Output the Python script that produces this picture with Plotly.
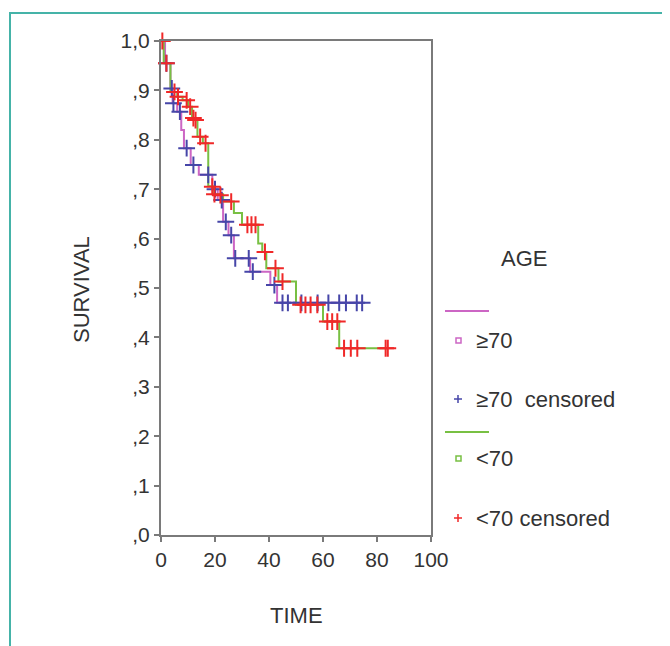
import plotly.graph_objects as go

# ---- data ----
old_times = [0, 1.5, 3.5, 4.3, 6, 7.5, 8.5, 11, 14, 19, 21, 23, 25, 27, 33, 40.5, 43, 74.7]
old_surv = [1.0, 0.955, 0.904, 0.874, 0.857, 0.82, 0.783, 0.749, 0.729, 0.70, 0.678, 0.634,
            0.607, 0.56, 0.533, 0.506, 0.47, 0.47]
old_cens_t = [2, 4, 4.6, 7, 9.5, 12, 17.5, 20, 22.5, 24, 26, 27.5, 32.5, 34, 42, 45, 47,
              52, 58, 62, 66, 68.5, 72.5, 74.5]
old_cens_s = [0.955, 0.904, 0.874, 0.857, 0.783, 0.749, 0.729, 0.70, 0.678, 0.634, 0.607,
              0.56, 0.56, 0.533, 0.506, 0.47, 0.47, 0.47, 0.47, 0.47, 0.47, 0.47, 0.47, 0.47]

young_times = [0, 1, 3.5, 6, 8, 10, 11.5, 13.5, 15.5, 17.5, 19.2, 23, 27, 30, 36, 37.5, 39,
               43.5, 50, 60, 66, 84]
young_surv = [1.0, 0.955, 0.897, 0.887, 0.88, 0.867, 0.844, 0.806, 0.793, 0.706, 0.69,
              0.675, 0.652, 0.628, 0.59, 0.573, 0.54, 0.513, 0.466, 0.432, 0.378, 0.378]
young_cens_t = [0.5, 2, 5, 6.3, 9.5, 10.8, 12, 12.8, 14.5, 16.5, 19, 19.8, 22, 26, 32,
                33.5, 35, 38.5, 42.4, 45, 51.7, 53.5, 55.4, 57.9, 61.6, 63.4, 65.3, 67.8,
                70.3, 72.7, 83.2, 84]
young_cens_s = [1.0, 0.955, 0.897, 0.887, 0.88, 0.867, 0.844, 0.84, 0.806, 0.793, 0.705,
                0.69, 0.688, 0.675, 0.628, 0.628, 0.628, 0.573, 0.54, 0.513, 0.466, 0.466,
                0.466, 0.466, 0.432, 0.432, 0.432, 0.378, 0.378, 0.378, 0.378, 0.378]

y_tick_vals = [0, 0.1, 0.2, 0.3, 0.4, 0.5, 0.6, 0.7, 0.8, 0.9, 1.0]
y_tick_text = [",0", ",1", ",2", ",3", ",4", ",5", ",6", ",7", ",8", ",9", "1,0"]
x_tick_vals = [0, 20, 40, 60, 80, 100]

MAGENTA = "#cc66c4"
GREEN = "#78c043"
BLUE = "#4646a8"
RED = "#f02828"
TXT = "#333333"
FONT = "Liberation Sans, Arial, sans-serif"

fig = go.Figure()
fig.add_trace(go.Scatter(x=old_times, y=old_surv, mode="lines", line_shape="hv",
                         line=dict(color=MAGENTA, width=2), cliponaxis=False))
fig.add_trace(go.Scatter(x=young_times, y=young_surv, mode="lines", line_shape="hv",
                         line=dict(color=GREEN, width=2), cliponaxis=False))
fig.add_trace(go.Scatter(x=old_cens_t, y=old_cens_s, mode="markers", cliponaxis=False,
                         marker=dict(symbol="cross-thin", size=12,
                                     line=dict(color=BLUE, width=2))))
fig.add_trace(go.Scatter(x=young_cens_t, y=young_cens_s, mode="markers", cliponaxis=False,
                         marker=dict(symbol="cross-thin", size=12,
                                     line=dict(color=RED, width=2))))

# page offset (body margin) and plot box in window pixels: x 161..431, y 41..535
OFF = 8
L, R, T, B = 161, 431, 41, 535
W, H = 670 - OFF, 646 - OFF


def px(x):
    return (x - L) / (R - L)


def py(y):
    return (B - y) / (B - T)


shapes = [
    # teal outer frame
    dict(type="rect", xref="paper", yref="paper", x0=px(10), x1=px(700), y0=py(690), y1=py(13),
         line=dict(color="#45b3a8", width=2), layer="below"),
    # legend lines
    dict(type="line", xref="paper", yref="paper", x0=px(445), x1=px(489), y0=py(311), y1=py(311),
         line=dict(color=MAGENTA, width=2)),
    dict(type="line", xref="paper", yref="paper", x0=px(445), x1=px(489), y0=py(432), y1=py(432),
         line=dict(color=GREEN, width=2)),
    # legend squares
    dict(type="rect", xref="paper", yref="paper", x0=px(456), x1=px(461), y0=py(343), y1=py(338),
         line=dict(color=MAGENTA, width=1.5)),
    dict(type="rect", xref="paper", yref="paper", x0=px(456), x1=px(461), y0=py(461), y1=py(456),
         line=dict(color=GREEN, width=1.5)),
    # legend plus signs
    dict(type="line", xref="paper", yref="paper", x0=px(454), x1=px(462), y0=py(399), y1=py(399),
         line=dict(color=BLUE, width=1.5)),
    dict(type="line", xref="paper", yref="paper", x0=px(458), x1=px(458), y0=py(395), y1=py(403),
         line=dict(color=BLUE, width=1.5)),
    dict(type="line", xref="paper", yref="paper", x0=px(454), x1=px(462), y0=py(518), y1=py(518),
         line=dict(color=RED, width=1.5)),
    dict(type="line", xref="paper", yref="paper", x0=px(458), x1=px(458), y0=py(514), y1=py(522),
         line=dict(color=RED, width=1.5)),
]


def ann(text, x, y, xanchor="left", angle=0, size=22):
    return dict(text=text, xref="paper", yref="paper", x=px(x), y=py(y), xanchor=xanchor,
                yanchor="middle", showarrow=False, textangle=angle,
                font=dict(family=FONT, size=size, color=TXT))


annotations = [
    ann("AGE", 524, 258, xanchor="center"),
    ann("≥70", 474, 340),
    ann("≥70  censored", 474, 399),
    ann("<70", 474, 458),
    ann("<70 censored", 474, 518),
    ann("SURVIVAL", 81, 290, xanchor="center", angle=-90),
    ann("TIME", 296, 615, xanchor="center"),
]

axis_common = dict(showline=True, linecolor="#7a7a7a", linewidth=2, mirror=True,
                   showgrid=False, zeroline=False, ticks="outside", ticklen=5,
                   tickcolor="#7a7a7a", tickwidth=1.5,
                   tickfont=dict(family=FONT, size=21, color=TXT))

fig.update_layout(
    width=W, height=H,
    margin=dict(l=L - OFF, r=W - (R - OFF), t=T - OFF, b=H - (B - OFF), pad=0),
    paper_bgcolor="white", plot_bgcolor="white",
    showlegend=False,
    shapes=shapes, annotations=annotations,
    xaxis=dict(range=[0, 100], tickvals=x_tick_vals, **axis_common),
    yaxis=dict(range=[0, 1], tickvals=y_tick_vals, ticktext=y_tick_text, **axis_common),
)

fig.write_html("out.html")
